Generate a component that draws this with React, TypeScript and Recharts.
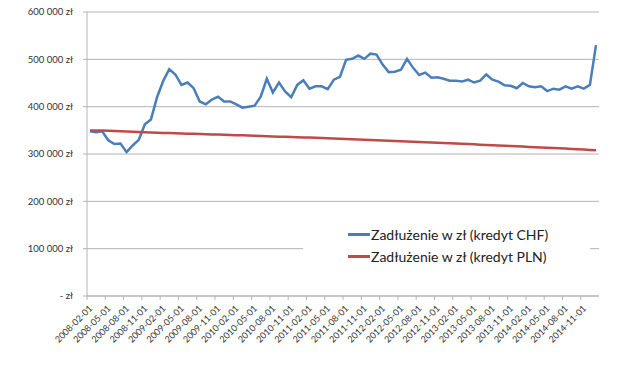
import { LineChart, Line, XAxis, YAxis, CartesianGrid, Legend } from "recharts";

const months = [
  "2008-02-01", "2008-03-01", "2008-04-01", "2008-05-01", "2008-06-01", "2008-07-01", "2008-08-01", "2008-09-01", "2008-10-01", "2008-11-01", "2008-12-01",
  "2009-01-01", "2009-02-01", "2009-03-01", "2009-04-01", "2009-05-01", "2009-06-01", "2009-07-01", "2009-08-01", "2009-09-01", "2009-10-01", "2009-11-01", "2009-12-01",
  "2010-01-01", "2010-02-01", "2010-03-01", "2010-04-01", "2010-05-01", "2010-06-01", "2010-07-01", "2010-08-01", "2010-09-01", "2010-10-01", "2010-11-01", "2010-12-01",
  "2011-01-01", "2011-02-01", "2011-03-01", "2011-04-01", "2011-05-01", "2011-06-01", "2011-07-01", "2011-08-01", "2011-09-01", "2011-10-01", "2011-11-01", "2011-12-01",
  "2012-01-01", "2012-02-01", "2012-03-01", "2012-04-01", "2012-05-01", "2012-06-01", "2012-07-01", "2012-08-01", "2012-09-01", "2012-10-01", "2012-11-01", "2012-12-01",
  "2013-01-01", "2013-02-01", "2013-03-01", "2013-04-01", "2013-05-01", "2013-06-01", "2013-07-01", "2013-08-01", "2013-09-01", "2013-10-01", "2013-11-01", "2013-12-01",
  "2014-01-01", "2014-02-01", "2014-03-01", "2014-04-01", "2014-05-01", "2014-06-01", "2014-07-01", "2014-08-01", "2014-09-01", "2014-10-01", "2014-11-01", "2014-12-01",
  "2015-01-01",
];

// zadłużenie - kredyt we frankach
const chfDebt = [
  348000, 346000, 348000, 329000, 321000, 322000, 304000, 318000, 330000, 363000, 373000,
  420000, 454000, 479000, 468000, 446000, 451000, 439000, 411000, 405000, 415000, 421000, 411000,
  411000, 405000, 398000, 400000, 402000, 421000, 459000, 430000, 451000, 432000, 420000, 446000,
  456000, 438000, 443000, 443000, 437000, 457000, 463000, 499000, 501000, 508000, 501000, 512000,
  510000, 489000, 473000, 474000, 478000, 501000, 482000, 467000, 472000, 461000, 462000, 459000,
  455000, 455000, 453000, 457000, 451000, 455000, 468000, 457000, 453000, 445000, 444000, 439000,
  450000, 443000, 441000, 443000, 433000, 438000, 436000, 443000, 438000, 443000, 438000, 446000,
  530000,
];

// zadłużenie - kredyt złotówkowy
const plnDebt = [
  349500, 349500, 349500, 349000, 348500, 348000, 347500, 347000, 346500, 346000, 345500,
  345000, 344600, 344200, 343800, 343400, 343000, 342600, 342200, 341800, 341400, 341000, 340600,
  340200, 339800, 339400, 339000, 338500, 338000, 337500, 337000, 336600, 336200, 335800, 335400,
  335000, 334600, 334100, 333600, 333100, 332600, 332100, 331600, 331100, 330600, 330100, 329600,
  329100, 328600, 328100, 327600, 327100, 326600, 326100, 325500, 325000, 324500, 324000, 323400,
  322800, 322200, 321600, 321000, 320400, 319800, 319200, 318600, 318000, 317400, 316800, 316200,
  315600, 315000, 314400, 313800, 313200, 312600, 312000, 311400, 310700, 310000, 309300, 308600,
  307900,
];

const yTicks = [0, 100000, 200000, 300000, 400000, 500000, 600000];

const chfLabel = "Zadłużenie w zł (kredyt CHF)";
const plnLabel = "Zadłużenie w zł (kredyt PLN)";

const data = months.map((m, i) => ({ month: m, chf: chfDebt[i], pln: plnDebt[i] }));

const FONT = "Lato, 'Liberation Sans', sans-serif";
const GRID = "#b4b4b4";

const formatZl = (v: number) =>
  v === 0 ? "- zł" : v.toLocaleString("pl-PL").replace(/\s/g, "\u00a0") + " zł";

const DateTick = (props: any) => {
  const { x, y, payload } = props;
  return (
    <g transform={`translate(${x},${y})`}>
      <line x1={-3} y1={0} x2={-3} y2={4} stroke={GRID} />
      <text
        x={0}
        y={0}
        transform="translate(3,13) rotate(-45)"
        textAnchor="end"
        fontSize={9}
        fontFamily={FONT}
        fill="#333"
      >
        {payload.value}
      </text>
    </g>
  );
};

const LegendBox = () => (
  <div
    style={{
      width: 287,
      height: 48,
      background: "#fff",
      fontFamily: FONT,
      fontSize: 14,
      color: "#222",
      paddingTop: 1,
      boxSizing: "border-box",
    }}
  >
    {[
      { label: chfLabel, color: "#4a7ebb" },
      { label: plnLabel, color: "#be4b48" },
    ].map((item) => (
      <div key={item.label} style={{ display: "flex", alignItems: "center", height: 22.5 }}>
        <span
          style={{
            display: "inline-block",
            width: 22,
            height: 3,
            background: item.color,
            marginLeft: 45,
            marginRight: 1,
          }}
        />
        <span>{item.label}</span>
      </div>
    ))}
  </div>
);

export default function App() {
  return (
    <div style={{ position: "absolute", left: 0, top: 0, width: 640, height: 369, background: "#fff" }}>
      <LineChart
        width={640}
        height={369}
        data={data}
        margin={{ top: 12, right: 41, bottom: 0, left: 0 }}
      >
        <CartesianGrid vertical={false} stroke={GRID} />
        <XAxis
          dataKey="month"
          interval={2}
          padding={{ left: 3, right: 3 }}
          height={73}
          tickLine={false}
          tickSize={0}
          tickMargin={0}
          axisLine={{ stroke: GRID }}
          tick={<DateTick />}
        />
        <YAxis
          width={87}
          domain={[0, 600000]}
          ticks={yTicks}
          tickFormatter={formatZl}
          axisLine={{ stroke: GRID }}
          tickLine={{ stroke: GRID }}
          tickSize={4}
          tickMargin={10}
          tick={{ fontSize: 9.5, fontFamily: FONT, fill: "#333" }}
        />
        <Legend
          layout="vertical"
          align="center"
          verticalAlign="middle"
          content={<LegendBox />}
          wrapperStyle={{ position: "absolute", left: 303, top: 222, width: 287, height: 48 }}
        />
        <Line
          dataKey="chf"
          name={chfLabel}
          stroke="#4a7ebb"
          strokeWidth={2.5}
          dot={false}
          isAnimationActive={false}
        />
        <Line
          dataKey="pln"
          name={plnLabel}
          stroke="#be4b48"
          strokeWidth={2.5}
          dot={false}
          isAnimationActive={false}
        />
      </LineChart>
    </div>
  );
}
